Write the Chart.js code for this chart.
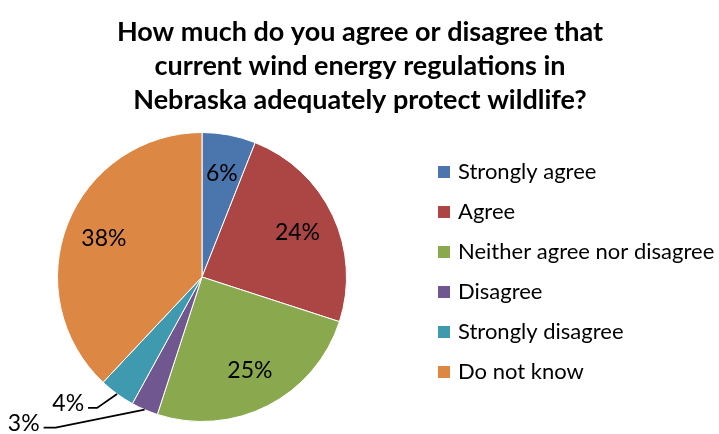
<!DOCTYPE html>
<html>
<head>
<meta charset="utf-8">
<script src="https://cdn.jsdelivr.net/npm/chart.js@4.4.0/dist/chart.umd.min.js"></script>
<style>
  html, body { margin: 0; padding: 0; background: #fff; }
  #wrap { width: 719px; height: 434px; position: relative; }
</style>
</head>
<body>
<div id="wrap"><canvas id="pie"></canvas></div>
<script>
var titleLines = [
    'How much do you agree or disagree that',
    'current wind energy regulations in',
    'Nebraska adequately protect wildlife?'
];
var categories = ['Strongly agree', 'Agree', 'Neither agree nor disagree', 'Disagree', 'Strongly disagree', 'Do not know'];
var percents = [6, 24, 25, 3, 4, 38];
var sliceColors = ['#4a76ad', '#ab4644', '#8aa84e', '#70578f', '#3f9ab0', '#dc8743'];

// labels that sit outside the pie with a leader line: [elbowDx, elbowDy, endDx]
var outsideLabels = {
    3: [-89, 18, -12],
    4: [-20, 14, -9]
};

var FONT = 'Lato, "Open Sans", sans-serif';

const drawExtras = {
    id: 'drawExtras',
    afterDatasetsDraw(chart) {
        const ctx = chart.ctx;
        const meta = chart.getDatasetMeta(0);
        ctx.save();

        // title
        ctx.fillStyle = '#000';
        ctx.font = 'bold 27px ' + FONT;
        ctx.textAlign = 'center';
        ctx.textBaseline = 'middle';
        titleLines.forEach((t, i) => ctx.fillText(t, 360, 32 + i * 34));

        // data labels
        ctx.font = '23px ' + FONT;
        meta.data.forEach((arc, i) => {
            const mid = (arc.startAngle + arc.endAngle) / 2;
            const label = percents[i] + '%';
            if (outsideLabels[i]) {
                const o = outsideLabels[i];
                const ex = arc.x + arc.outerRadius * Math.cos(mid);
                const ey = arc.y + arc.outerRadius * Math.sin(mid);
                const bx = ex + o[0], by = ey + o[1];
                const cx = bx + o[2];
                ctx.strokeStyle = '#000';
                ctx.lineWidth = 1.8;
                ctx.beginPath();
                ctx.moveTo(ex, ey);
                ctx.lineTo(bx, by);
                ctx.lineTo(cx, by);
                ctx.stroke();
                ctx.textAlign = 'right';
                ctx.fillText(label, cx - 4, by - 4);
            } else {
                const r = arc.outerRadius * 0.73;
                ctx.textAlign = 'center';
                ctx.fillText(label, arc.x + r * Math.cos(mid), arc.y + r * Math.sin(mid));
            }
        });

        // legend
        ctx.font = '22px ' + FONT;
        ctx.textAlign = 'left';
        categories.forEach((c, i) => {
            const y = 172 + i * 40;
            ctx.fillStyle = sliceColors[i];
            ctx.fillRect(438, y - 6, 12, 12);
            ctx.fillStyle = '#000';
            ctx.fillText(c, 458, y);
        });
        ctx.restore();
    }
};

new Chart(document.getElementById('pie'), {
    type: 'pie',
    data: {
        labels: categories,
        datasets: [{
            data: percents,
            backgroundColor: sliceColors,
            borderColor: '#ffffff',
            borderWidth: 1
        }]
    },
    options: {
        responsive: true,
        maintainAspectRatio: false,
        animation: false,
        layout: {
            padding: { left: 57, right: 372, top: 132, bottom: 12 }
        },
        plugins: {
            legend: { display: false },
            title: { display: false },
            tooltip: { enabled: false }
        }
    },
    plugins: [drawExtras]
});
</script>
</body>
</html>
